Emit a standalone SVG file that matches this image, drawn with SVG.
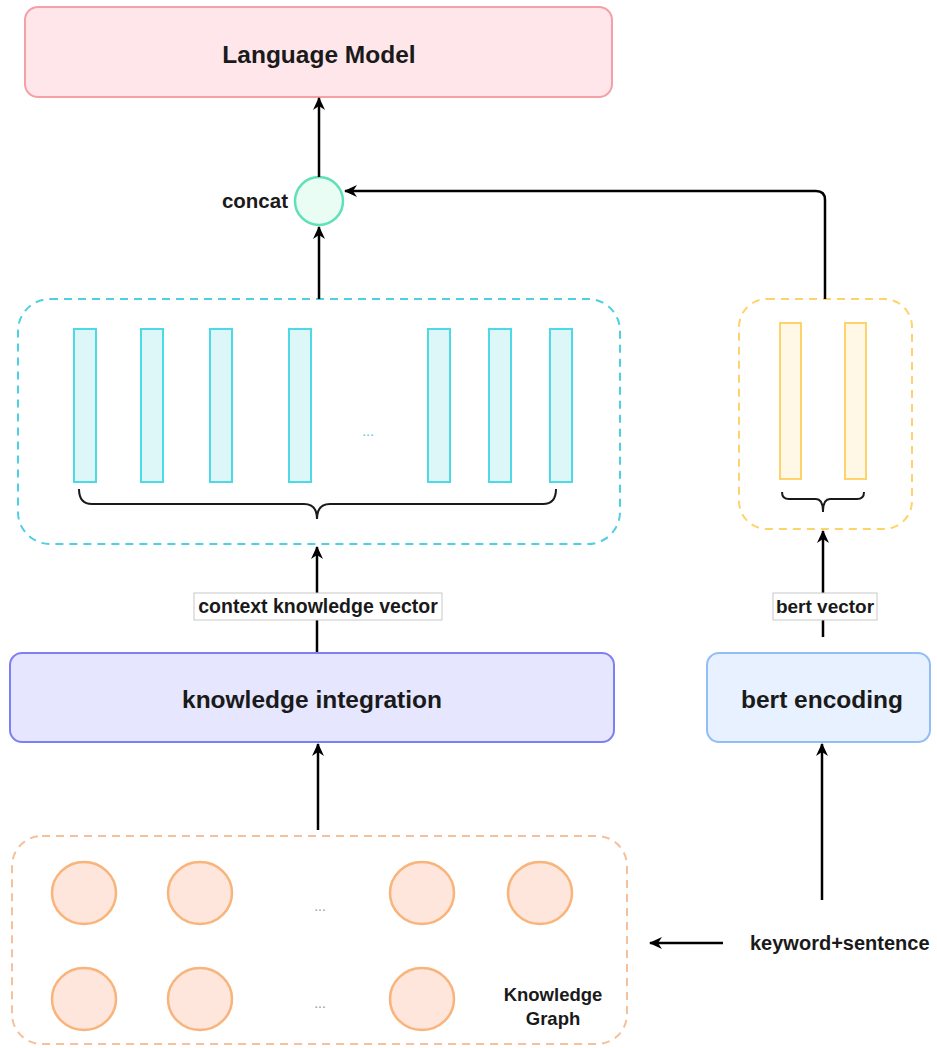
<svg xmlns="http://www.w3.org/2000/svg" width="937" height="1048" viewBox="0 0 937 1048">
<style>
.t{font-family:"Liberation Sans",Arial,sans-serif;fill:#1a1a1a}
.b{font-weight:bold}
.ln{fill:none;stroke:#000;stroke-width:2.5}
.cb{fill:#ddf6f8;stroke:#4dd9e6;stroke-width:2}
.yb{fill:#fff8e6;stroke:#ffd36b;stroke-width:2}
.kc{fill:#ffe6dc;stroke:#f8b47a;stroke-width:2.5}
.br{fill:none;stroke:#1a1a1a;stroke-width:2}
.lab{fill:#fff;stroke:#c8c8c8;stroke-width:1}
</style>
<defs>
<marker id="ar" markerWidth="14" markerHeight="14" refX="12" refY="7" orient="auto" markerUnits="userSpaceOnUse">
<path d="M0,1 L13,7 L0,13 L4,7 z" fill="#000"/>
</marker>
</defs>
<rect width="937" height="1048" fill="#fff"/>

<g id="language-model">
<rect x="25" y="7" width="587" height="90" rx="13" fill="#ffe6ea" stroke="#f4a0a6" stroke-width="2"/>
<text class="t b" x="319" y="63" font-size="24.5" text-anchor="middle">Language Model</text>
</g>

<g id="concat">
<ellipse cx="319" cy="201" rx="24" ry="24" fill="#eafdf4" stroke="#5ee0b8" stroke-width="2.5"/>
<text class="t b" x="288" y="208" font-size="20.5" text-anchor="end">concat</text>
</g>

<g id="context-vectors">
<rect x="18" y="299" width="602" height="245" rx="32" fill="none" stroke="#4dd0e1" stroke-width="2" stroke-dasharray="8 6"/>
<rect class="cb" x="74" y="329" width="22" height="153"/>
<rect class="cb" x="141" y="329" width="22" height="153"/>
<rect class="cb" x="210" y="329" width="22" height="153"/>
<rect class="cb" x="289" y="329" width="22" height="153"/>
<rect class="cb" x="428" y="329" width="22" height="153"/>
<rect class="cb" x="489" y="329" width="22" height="153"/>
<rect class="cb" x="550" y="329" width="22" height="153"/>
<text class="t" x="368" y="436" font-size="14" text-anchor="middle" style="fill:#4dc8d8">...</text>
<path class="br" d="M79,489 Q79,504 92,504 L304,504 Q317,504 317,519 Q317,504 330,504 L543,504 Q556,504 556,489"/>
</g>

<g id="bert-vectors">
<rect x="739" y="299" width="173" height="230" rx="28" fill="none" stroke="#ffd36b" stroke-width="2" stroke-dasharray="8 6"/>
<rect class="yb" x="780" y="323" width="21" height="156"/>
<rect class="yb" x="845" y="323" width="21" height="156"/>
<path class="br" d="M782,492 Q782,499 789,499 L816,499 Q823,499 823,512 Q823,499 830,499 L857,499 Q864,499 864,492"/>
</g>

<g id="knowledge-integration">
<rect x="10" y="653" width="604" height="89" rx="12" fill="#e6e6ff" stroke="#7f7ff5" stroke-width="2"/>
<text class="t b" x="312" y="708" font-size="24.5" text-anchor="middle">knowledge integration</text>
</g>

<g id="bert-encoding">
<rect x="707" y="653" width="223" height="89" rx="12" fill="#e8f1ff" stroke="#93bdf5" stroke-width="2"/>
<text class="t b" x="822" y="708" font-size="24.5" text-anchor="middle">bert encoding</text>
</g>

<g id="knowledge-graph">
<rect x="12" y="836" width="615" height="208" rx="30" fill="none" stroke="#f5c09a" stroke-width="2" stroke-dasharray="8 6"/>
<ellipse class="kc" cx="84" cy="893" rx="32" ry="31"/>
<ellipse class="kc" cx="200" cy="893" rx="32" ry="31"/>
<ellipse class="kc" cx="422" cy="893" rx="32" ry="31"/>
<ellipse class="kc" cx="540" cy="893" rx="32" ry="31"/>
<ellipse class="kc" cx="84" cy="999" rx="32" ry="31"/>
<ellipse class="kc" cx="200" cy="999" rx="32" ry="31"/>
<ellipse class="kc" cx="422" cy="999" rx="32" ry="31"/>
<text class="t" x="320" y="911" font-size="14" text-anchor="middle" style="fill:#999">...</text>
<text class="t" x="320" y="1008" font-size="14" text-anchor="middle" style="fill:#999">...</text>
<text class="t b" x="553" y="1001" font-size="18.5" text-anchor="middle">Knowledge</text>
<text class="t b" x="553" y="1025" font-size="18.5" text-anchor="middle">Graph</text>
</g>

<g id="keyword-sentence">
<text class="t b" x="750" y="950" font-size="20">keyword+sentence</text>
</g>

<g id="connectors">
<line class="ln" x1="319" y1="177" x2="319" y2="98" marker-end="url(#ar)"/>
<line class="ln" x1="319" y1="299" x2="319" y2="227" marker-end="url(#ar)"/>
<path class="ln" d="M825,299 V200 Q825,191 816,191 H345" marker-end="url(#ar)"/>
<line class="ln" x1="317" y1="652" x2="317" y2="547" marker-end="url(#ar)"/>
<rect class="lab" x="194" y="593" width="248" height="27"/>
<text class="t b" x="318" y="613" font-size="19.5" text-anchor="middle">context knowledge vector</text>
<line class="ln" x1="823" y1="637" x2="823" y2="531" marker-end="url(#ar)"/>
<rect class="lab" x="773" y="593" width="104" height="27"/>
<text class="t b" x="825" y="613" font-size="19" text-anchor="middle">bert vector</text>
<line class="ln" x1="318" y1="830" x2="318" y2="744" marker-end="url(#ar)"/>
<line class="ln" x1="822" y1="900" x2="822" y2="744" marker-end="url(#ar)"/>
<line class="ln" x1="723" y1="943" x2="650" y2="943" marker-end="url(#ar)"/>
</g>
</svg>
